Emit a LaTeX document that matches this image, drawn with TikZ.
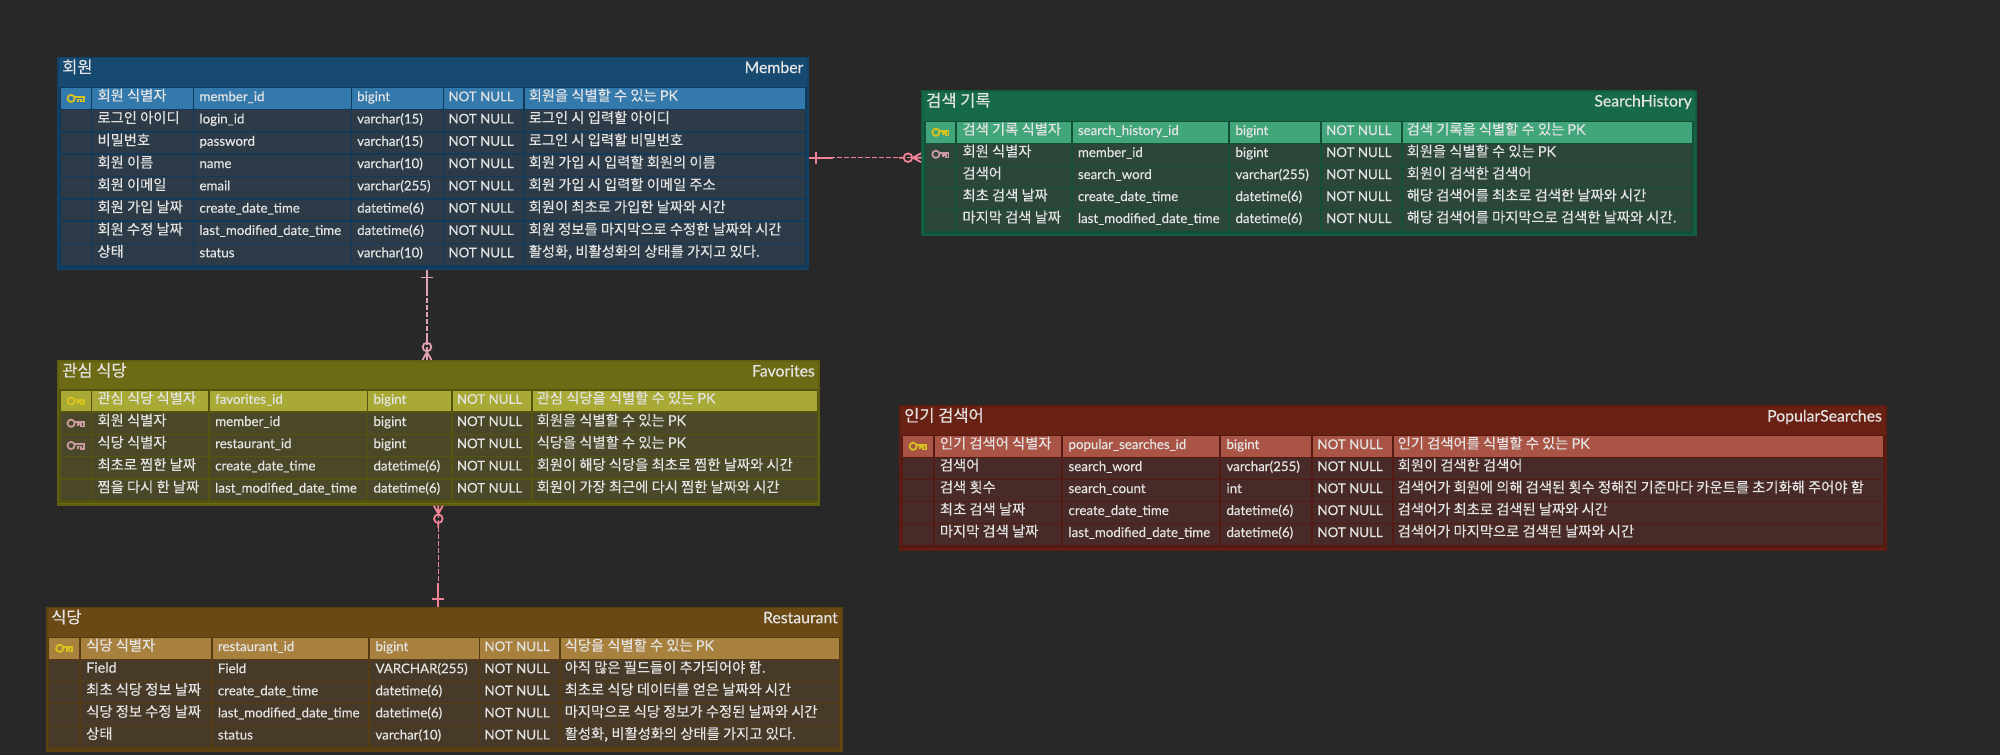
\documentclass[tikz,border=0pt]{standalone}
\usepackage{fontspec}
\setmainfont[FakeBold=0.3]{Lato}
\newfontfamily\ko[FakeBold=0.25]{Noto Sans CJK KR}
\definecolor{bgc}{HTML}{282828}
\definecolor{txtc}{HTML}{E4E4E4}
\definecolor{keyy}{HTML}{D6C21E}
\definecolor{keyp}{HTML}{C99AA0}
\definecolor{lnA}{HTML}{E2A2B2}
\definecolor{lnB}{HTML}{F08496}
\tikzset{
  tablebox/.style={inner sep=0pt,line width=1.6pt},
  celltxt/.style={anchor=base west,inner sep=0pt,text=txtc,font=\fontsize{13.3}{15}\selectfont},
  kotxt/.style={anchor=base west,inner sep=0pt,text=txtc,font=\ko\fontsize{14.3}{16}\selectfont},
  titlek/.style={anchor=base west,inner sep=0pt,text=txtc,font=\ko\fontsize{16.5}{18}\selectfont},
  titlee/.style={anchor=base east,inner sep=0pt,text=txtc,font=\fontsize{15.8}{18}\selectfont},
  rel/.style={line width=1.3pt,dash pattern=on 5pt off 2pt},
  pics/keyicon/.style={code={
    \draw[#1,line width=1.8pt] (-4.6,0) circle (3.6);
    \draw[#1,line width=1.7pt,line join=miter] (-1,-1.2) -- (8,-1.2) -- (8,3.2) -- (5.2,3.2) -- (5.2,1) -- (2.6,1) -- (2.6,3.2);
  }},
  pics/onemark/.style={code={
    \draw[#1,line width=1.8pt] (0,0) -- (24,0) (7.5,-6) -- (7.5,6);
  }},
  pics/manymark/.style={code={
    \draw[#1,line width=1.8pt] (0,-4.5) -- (8,0) -- (0,4.5) (0,0) -- (8,0) (17.5,0) -- (22,0);
    \draw[#1,line width=1.8pt] (13,0) circle (4.3);
  }},
}
% columns: starts and ends
\newcommand\colstart[6]{\def\sa{#1}\def\sb{#2}\def\sc{#3}\def\sd{#4}\def\se{#5}\def\sf{#6}}
\newcommand\colend[6]{\def\ea{#1}\def\eb{#2}\def\ec{#3}\def\ed{#4}\def\ee{#5}\def\ef{#6}}
% name, x0,x1,y0,y1, header bottom, ko title, en title; colours via hdC,bdC,grC,rwC,pkC
\newcommand\ertable[8]{%
  \node[tablebox,draw=bdC,fill=hdC,minimum width={#3-#2-1.6pt},minimum height={#5-#4-1.6pt}] (#1) at ({(#2+#3)/2},{(#4+#5)/2}) {};
  \fill[grC] (\sa-1.5,#6) rectangle (\ef+1.5,#5-2.5);
  \node[titlek] (#1-ko) at (#2+5,#4+16.5) {#7};
  \node[titlee] (#1-en) at (#3-5,#4+16.5) {#8};
  \def\tn{#1}\def\ry{#6}%
}
\newcommand\cellbox[3]{\fill[#3] (#1,\ya) rectangle (#2,\yb);}
% row index, fill colour, key colour (or none), ko, physical, type, description
\newcommand\errow[7]{%
  \pgfmathsetmacro\ya{\ry+1.5+(#1-1)*\pitch}%
  \pgfmathsetmacro\yb{\ya+\pitch-1.5}%
  \pgfmathsetmacro\yt{\ya+\pitch/2+1.5}%
  \cellbox{\sa}{\ea}{#2}\cellbox{\sb}{\eb}{#2}\cellbox{\sc}{\ec}{#2}\cellbox{\sd}{\ed}{#2}\cellbox{\se}{\ee}{#2}\cellbox{\sf}{\ef}{#2}
  \ifx&#3&\else\pic at ({(\sa+\ea)/2},{(\ya+\yb)/2}) {keyicon=#3};\fi
  \node[kotxt] (\tn-#1-a) at (\sb+5,\yt) {#4};
  \node[celltxt] (\tn-#1-b) at (\sc+5,\yt+0.5) {#5};
  \node[celltxt] (\tn-#1-c) at (\sd+5,\yt+0.5) {#6};
  \node[celltxt] (\tn-#1-d) at (\se+4,\yt+0.5) {NOT NULL};
  \node[kotxt] (\tn-#1-e) at (\sf+3.5,\yt) {#7};
}
\newcommand\pk{{\rmfamily PK}}
\begin{document}
\begin{tikzpicture}[x=1pt,y=-1pt]
\useasboundingbox (0,0) rectangle (2000,755);
\fill[bgc] (0,0) rectangle (2000,755);

%% Member
\definecolor{hdC}{HTML}{164A70}\definecolor{bdC}{HTML}{124268}\definecolor{grC}{HTML}{123A5A}\definecolor{rwC}{HTML}{2C3B47}\definecolor{pkC}{HTML}{3479AB}
\colstart{60.7}{92.3}{194.3}{352}{444.3}{525}
\colend{90.7}{192.7}{350.7}{442.7}{523.3}{805}
\def\pitch{22.3}
\ertable{member}{57}{808.5}{56.5}{270}{86.5}{회원}{Member}
\errow{1}{pkC}{keyy}{회원 식별자}{member\_id}{bigint}{회원을 식별할 수 있는 \pk}
\errow{2}{rwC}{}{로그인 아이디}{login\_id}{varchar(15)}{로그인 시 입력할 아이디}
\errow{3}{rwC}{}{비밀번호}{password}{varchar(15)}{로그인 시 입력할 비밀번호}
\errow{4}{rwC}{}{회원 이름}{name}{varchar(10)}{회원 가입 시 입력할 회원의 이름}
\errow{5}{rwC}{}{회원 이메일}{email}{varchar(255)}{회원 가입 시 입력할 이메일 주소}
\errow{6}{rwC}{}{회원 가입 날짜}{create\_date\_time}{datetime(6)}{회원이 최초로 가입한 날짜와 시간}
\errow{7}{rwC}{}{회원 수정 날짜}{last\_modified\_date\_time}{datetime(6)}{회원 정보를 마지막으로 수정한 날짜와 시간}
\errow{8}{rwC}{}{상태}{status}{varchar(10)}{활성화, 비활성화의 상태를 가지고 있다.}

%% SearchHistory
\definecolor{hdC}{HTML}{176A47}\definecolor{bdC}{HTML}{135C3D}\definecolor{grC}{HTML}{12503A}\definecolor{rwC}{HTML}{2C463A}\definecolor{pkC}{HTML}{42A67B}
\colstart{925.7}{957.3}{1072.7}{1230.3}{1322}{1403}
\colend{955.3}{1070.7}{1228.3}{1320}{1401}{1692}
\def\pitch{22}
\ertable{search}{921}{1697}{90}{236}{120.5}{검색 기록}{SearchHistory}
\errow{1}{pkC}{keyy}{검색 기록 식별자}{search\_history\_id}{bigint}{검색 기록을 식별할 수 있는 \pk}
\errow{2}{rwC}{keyp}{회원 식별자}{member\_id}{bigint}{회원을 식별할 수 있는 \pk}
\errow{3}{rwC}{}{검색어}{search\_word}{varchar(255)}{회원이 검색한 검색어}
\errow{4}{rwC}{}{최초 검색 날짜}{create\_date\_time}{datetime(6)}{해당 검색어를 최초로 검색한 날짜와 시간}
\errow{5}{rwC}{}{마지막 검색 날짜}{last\_modified\_date\_time}{datetime(6)}{해당 검색어를 마지막으로 검색한 날짜와 시간.}

%% Favorites
\definecolor{hdC}{HTML}{6C6A14}\definecolor{bdC}{HTML}{605E10}\definecolor{grC}{HTML}{55540F}\definecolor{rwC}{HTML}{4A4828}\definecolor{pkC}{HTML}{A9A936}
\colstart{60.7}{92.3}{210}{368.3}{452.7}{533}
\colend{90.7}{208}{366.7}{450.7}{531}{816.7}
\def\pitch{22.2}
\ertable{fav}{57}{820}{360}{505.7}{389.2}{관심 식당}{Favorites}
\errow{1}{pkC}{keyy}{관심 식당 식별자}{favorites\_id}{bigint}{관심 식당을 식별할 수 있는 \pk}
\errow{2}{rwC}{keyp}{회원 식별자}{member\_id}{bigint}{회원을 식별할 수 있는 \pk}
\errow{3}{rwC}{keyp}{식당 식별자}{restaurant\_id}{bigint}{식당을 식별할 수 있는 \pk}
\errow{4}{rwC}{}{최초로 찜한 날짜}{create\_date\_time}{datetime(6)}{회원이 해당 식당을 최초로 찜한 날짜와 시간}
\errow{5}{rwC}{}{찜을 다시 한 날짜}{last\_modified\_date\_time}{datetime(6)}{회원이 가장 최근에 다시 찜한 날짜와 시간}

%% Restaurant
\definecolor{hdC}{HTML}{6A4915}\definecolor{bdC}{HTML}{5E4110}\definecolor{grC}{HTML}{573C12}\definecolor{rwC}{HTML}{483A28}\definecolor{pkC}{HTML}{A8813F}
\colstart{49.3}{81}{212.7}{370.3}{480.3}{561}
\colend{79.3}{210.7}{368.3}{478.7}{558.7}{838.7}
\def\pitch{22.1}
\ertable{rest}{46}{843}{606.7}{752}{636.5}{식당}{Restaurant}
\errow{1}{pkC}{keyy}{식당 식별자}{restaurant\_id}{bigint}{식당을 식별할 수 있는 \pk}
\errow{2}{rwC}{}{{\rmfamily Field}}{Field}{VARCHAR(255)}{아직 많은 필드들이 추가되어야 함.}
\errow{3}{rwC}{}{최초 식당 정보 날짜}{create\_date\_time}{datetime(6)}{최초로 식당 데이터를 얻은 날짜와 시간}
\errow{4}{rwC}{}{식당 정보 수정 날짜}{last\_modified\_date\_time}{datetime(6)}{마지막으로 식당 정보가 수정된 날짜와 시간}
\errow{5}{rwC}{}{상태}{status}{varchar(10)}{활성화, 비활성화의 상태를 가지고 있다.}

%% PopularSearches
\definecolor{hdC}{HTML}{692114}\definecolor{bdC}{HTML}{5E1C12}\definecolor{grC}{HTML}{551A12}\definecolor{rwC}{HTML}{482B28}\definecolor{pkC}{HTML}{A95444}
\colstart{902.7}{934.7}{1063.3}{1221.3}{1313.3}{1394}
\colend{932.7}{1061.3}{1219.3}{1311.3}{1391.8}{1883}
\def\pitch{22}
\ertable{pop}{899}{1887}{405}{550.7}{434.5}{인기 검색어}{PopularSearches}
\errow{1}{pkC}{keyy}{인기 검색어 식별자}{popular\_searches\_id}{bigint}{인기 검색어를 식별할 수 있는 \pk}
\errow{2}{rwC}{}{검색어}{search\_word}{varchar(255)}{회원이 검색한 검색어}
\errow{3}{rwC}{}{검색 횟수}{search\_count}{int}{검색어가 회원에 의해 검색된 횟수 정해진 기준마다 카운트를 초기화해 주어야 함}
\errow{4}{rwC}{}{최초 검색 날짜}{create\_date\_time}{datetime(6)}{검색어가 최초로 검색된 날짜와 시간}
\errow{5}{rwC}{}{마지막 검색 날짜}{last\_modified\_date\_time}{datetime(6)}{검색어가 마지막으로 검색된 날짜와 시간}

%% Connectors
\coordinate (mfx) at (427,0);
\coordinate (frx) at (438.3,0);
\coordinate (msy) at (0,157.7);
\draw[rel,lnA] (member.south -| mfx) -- (fav.north -| mfx);
\pic[rotate=-90] at (member.south -| mfx) {onemark=lnA};
\pic[rotate=90] at (fav.north -| mfx) {manymark=lnA};
\draw[rel,lnB] (fav.south -| frx) -- (rest.north -| frx);
\pic[rotate=-90] at (fav.south -| frx) {manymark=lnB};
\pic[rotate=90] at (rest.north -| frx) {onemark=lnB};
\draw[rel,lnB] (member.east |- msy) -- (search.west |- msy);
\pic at (member.east |- msy) {onemark=lnB};
\pic[rotate=180] at (search.west |- msy) {manymark=lnB};
\end{tikzpicture}
\end{document}
